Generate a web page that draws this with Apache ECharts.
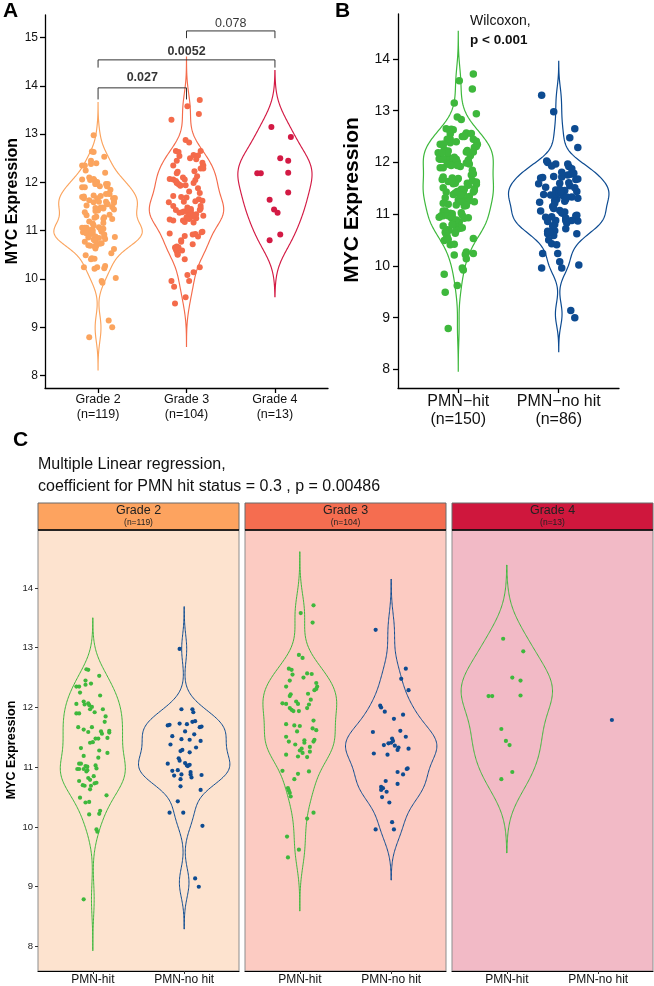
<!DOCTYPE html>
<html>
<head>
<meta charset="utf-8">
<script src="https://cdn.jsdelivr.net/npm/echarts@6/dist/echarts.min.js"></script>
<style>
html,body{margin:0;padding:0;background:#fff;}
#main{width:654px;height:986px;}
</style>
</head>
<body>
<div id="main"></div>
<script>
// points: [jitter offset, MYC expression]
const g2Hit = [[-0.07,12.64],[-0.05,12.63],[0.07,12.53],[-0.08,12.45],[-0.08,12.38],[-0.02,12.40],[-0.18,12.35],[-0.15,12.35],[-0.14,12.25],[0.08,12.20],
[-0.10,12.10],[-0.09,12.05],[-0.05,12.07],[-0.04,12.04],[-0.01,12.01],[-0.03,11.97],[0.02,11.92],[-0.18,12.06],[-0.18,11.90],[-0.15,11.90],
[0.11,11.97],[0.14,11.85],[0.13,11.76],[-0.16,11.67],[-0.10,11.63],[-0.05,11.59],[-0.01,11.67],[0.18,11.61],[0.18,11.58],[0.09,11.60],
[0.10,11.56],[0.06,11.48],[0.03,11.48],[0.16,11.49],[-0.03,11.41],[0.00,11.42],[-0.13,11.32],[0.07,11.28],[0.16,11.24],[-0.10,11.19],
[0.06,11.16],[-0.15,11.06],[-0.13,11.06],[-0.17,10.97],[-0.15,10.97],[-0.08,11.02],[-0.06,11.01],[0.03,11.03],[0.04,10.98],[-0.10,10.97],
[-0.07,10.93],[-0.06,10.95],[0.01,10.85],[-0.03,10.79],[-0.05,10.82],[-0.15,10.77],[-0.11,10.70],[-0.09,10.69],[0.02,10.73],[0.04,10.74],
[-0.02,10.69],[-0.03,10.63],[0.15,10.53],[-0.14,10.49],[-0.08,10.41],[-0.04,10.42],[0.08,10.27],[0.07,10.22],[-0.04,10.21],[0.04,9.96],
[0.05,9.92],[-0.10,8.79]];
const g2NoHit = [[-0.05,12.98],[-0.03,11.97],[0.09,11.97],[0.10,11.92],[-0.16,11.71],[-0.18,11.70],[-0.05,11.73],[0.03,11.72],[0.09,11.76],[0.12,11.77],
[0.17,11.67],[0.19,11.68],[-0.13,11.52],[0.01,11.60],[0.11,11.55],[-0.03,11.47],[0.06,11.46],[0.18,11.44],[-0.15,11.38],[0.13,11.33],
[-0.02,11.29],[-0.04,11.27],[0.06,11.25],[-0.06,11.15],[-0.18,11.06],[-0.05,11.11],[-0.13,10.94],[-0.07,10.95],[-0.11,10.86],[-0.03,10.88],
[0.01,11.07],[0.03,11.03],[0.04,11.02],[0.06,11.04],[0.07,10.92],[0.07,10.88],[0.08,10.83],[0.19,10.87],[-0.04,10.80],[-0.04,10.68],
[0.18,10.62],[-0.07,10.43],[-0.16,10.24],[-0.01,10.24],[0.20,10.02],[0.12,9.14],[0.16,9.00]];
const g3Hit = [[0.15,13.71],[0.01,13.58],[0.14,13.42],[-0.01,12.88],[0.03,12.83],[-0.12,12.65],[-0.09,12.63],[0.08,12.57],[0.13,12.56],[-0.08,12.55],
[-0.11,12.45],[0.04,12.50],[0.18,12.41],[0.19,12.35],[0.16,12.29],[0.18,12.31],[-0.15,12.35],[0.09,12.23],[-0.10,12.22],[-0.11,12.19],
[-0.19,12.07],[-0.15,12.06],[-0.04,12.10],[-0.02,12.06],[0.12,12.13],[0.08,11.99],[-0.11,11.99],[-0.09,11.96],[-0.07,11.94],[-0.01,11.94],
[-0.15,11.72],[0.00,11.69],[0.15,11.78],[0.14,11.65],[0.18,11.62],[-0.03,11.60],[-0.15,11.51],[-0.12,11.43],[-0.05,11.38],[0.05,11.41],
[0.11,11.34],[0.15,11.43],[0.16,11.46],[-0.15,11.21],[0.00,11.28],[0.02,11.31],[0.03,11.24],[0.11,11.26],[0.08,11.17],[-0.02,11.18],
[-0.19,10.94],[-0.02,10.89],[0.10,10.93],[-0.06,10.80],[-0.13,10.65],[-0.12,10.61],[-0.11,10.57],[-0.10,10.51],[0.15,10.24],[0.08,10.14],
[-0.14,9.84],[-0.01,9.62],[-0.13,9.49],[0.05,11.45],[-0.06,11.70],[0.10,12.05]];
const g3NoHit = [[-0.17,13.30],[0.16,12.65],[0.11,12.48],[0.19,12.29],[-0.12,12.03],[-0.11,12.00],[-0.07,11.93],[0.13,11.88],[0.03,11.81],[-0.20,11.59],
[0.10,11.61],[0.01,11.48],[-0.08,11.37],[-0.03,11.40],[0.00,11.41],[0.04,11.36],[0.07,11.29],[0.16,11.51],[0.19,11.31],[-0.19,11.23],
[-0.04,11.21],[0.07,10.92],[0.13,10.88],[0.17,10.97],[0.18,10.98],[-0.06,10.77],[0.07,10.72],[-0.11,10.67],[-0.11,10.62],[-0.05,10.59],
[-0.10,10.50],[-0.02,10.41],[0.01,10.08],[-0.17,9.96],[0.03,9.96],[0.08,11.33],[0.02,11.44],[-0.09,10.65]];
const g4Hit = [[-0.04,13.15],[0.18,12.94],[0.06,12.50],[0.15,12.45],[-0.20,12.19],[-0.16,12.19],[0.15,12.20],[-0.06,11.64],[-0.01,11.44],[0.03,11.37],
[0.06,10.92],[-0.06,10.80]];
const g4NoHit = [[0.15,11.79]];

const gradeNames = ['Grade 2', 'Grade 3', 'Grade 4'];
const gradeN = ['(n=119)', '(n=104)', '(n=13)'];
const hitNames = ['PMN\u2212hit', 'PMN\u2212no hit'];
const hitN = ['(n=150)', '(n=86)'];
const facetHitNames = ['PMN-hit', 'PMN-no hit'];
const ticksA = [8, 9, 10, 11, 12, 13, 14, 15];
const ticksB = [8, 9, 10, 11, 12, 13, 14];
const pairsA = [[1, 2], [1, 3], [2, 3]];
const pValuesA = ['0.027', '0.0052', '0.078'];
const pBoldA = [true, true, false];
const testB = 'Wilcoxon,';
const pValueB = 'p < 0.001';
const titleC = ['Multiple Linear regression,', 'coefficient for PMN hit status = 0.3 , p = 0.00486'];

const gradeCols = ['#FBA45E', '#F46B4B', '#D31A44'];
const stripCols = ['#FDA35F', '#F56D50', '#CF173D'];
const bgCols = ['#FDE3CF', '#FCCBC2', '#F2BAC6'];
const hitCols = ['#3EB83C', '#0D4B91'];
const FONT = 'Liberation Sans, Arial, Helvetica, sans-serif';

// ---- kernel density like R's density(bw = "nrd0"), cut = 3
function quantile(s, p) {
    const h = (s.length - 1) * p, lo = Math.floor(h);
    const hi = Math.min(lo + 1, s.length - 1);
    return s[lo] + (h - lo) * (s[hi] - s[lo]);
}
function bwNrd0(v) {
    const s = v.slice().sort((a, b) => a - b), n = s.length;
    const m = s.reduce((a, b) => a + b, 0) / n;
    const sd = Math.sqrt(s.reduce((a, b) => a + (b - m) * (b - m), 0) / (n - 1));
    const iqr = quantile(s, 0.75) - quantile(s, 0.25);
    let lo = Math.min(sd, iqr / 1.34);
    if (!(lo > 0)) lo = sd || 1;
    return 0.9 * lo * Math.pow(n, -0.2);
}
function kde(v) {
    const bw = bwNrd0(v);
    const lo = Math.min(...v) - 3 * bw, hi = Math.max(...v) + 3 * bw;
    const out = [], N = 240;
    for (let i = 0; i <= N; i++) {
        const y = lo + (hi - lo) * i / N;
        let d = 0;
        v.forEach(x => { const z = (y - x) / bw; d += Math.exp(-0.5 * z * z); });
        out.push([y, d / (v.length * bw * Math.sqrt(2 * Math.PI))]);
    }
    return out;
}

// groups: [{center, pts, color}]
function violinSeries(groups, gi, lw) {
    const withViolin = groups.filter(g => g.pts.length > 1);
    const profiles = withViolin.map(g => kde(g.pts.map(p => p[1])));
    let maxD = 0;
    profiles.forEach(p => p.forEach(q => { maxD = Math.max(maxD, q[1]); }));
    return {
        type: 'custom', xAxisIndex: gi, yAxisIndex: gi, silent: true, z: 2,
        data: withViolin.map(g => [g.center, g.pts[0][1]]),
        renderItem(params, api) {
            const p = profiles[params.dataIndex];
            const c = withViolin[params.dataIndex].center;
            const right = p.map(q => api.coord([c + q[1] / maxD * 0.5, q[0]]));
            const left = p.slice().reverse().map(q => api.coord([c - q[1] / maxD * 0.5, q[0]]));
            return {
                type: 'polygon',
                shape: {points: right.concat(left)},
                style: {fill: 'none', stroke: withViolin[params.dataIndex].color, lineWidth: lw}
            };
        }
    };
}
function pointSeries(groups, gi, size) {
    return groups.map(g => ({
        type: 'scatter', xAxisIndex: gi, yAxisIndex: gi, silent: true, z: 3,
        symbolSize: size,
        itemStyle: {color: g.color, opacity: 1},
        data: g.pts.map(p => [g.center + p[0], p[1]])
    }));
}

const groupsA = [
    {center: 1, pts: g2Hit.concat(g2NoHit), color: gradeCols[0]},
    {center: 2, pts: g3Hit.concat(g3NoHit), color: gradeCols[1]},
    {center: 3, pts: g4Hit.concat(g4NoHit), color: gradeCols[2]}
];
const groupsB = [
    {center: 1, pts: g2Hit.concat(g3Hit, g4Hit), color: hitCols[0]},
    {center: 2, pts: g2NoHit.concat(g3NoHit, g4NoHit), color: hitCols[1]}
];
const groupsC = [
    [{center: 1, pts: g2Hit, color: hitCols[0]}, {center: 2, pts: g2NoHit, color: hitCols[1]}],
    [{center: 1, pts: g3Hit, color: hitCols[0]}, {center: 2, pts: g3NoHit, color: hitCols[1]}],
    [{center: 1, pts: g4Hit, color: hitCols[0]}, {center: 2, pts: g4NoHit, color: hitCols[1]}]
];

const blackLine = {color: '#000', width: 1.3};
const gridC = [38, 245, 452];

const grids = [
    {left: 45, top: 15, width: 283, height: 373},
    {left: 398, top: 14, width: 221, height: 374}
];
gridC.forEach((l, i) => grids.push({
    left: l, top: 530, width: 201, height: 441,
    show: true, backgroundColor: bgCols[i], borderColor: '#8d8d8d', borderWidth: 1
}));

const xAxes = [
    {
        gridIndex: 0, type: 'value', min: 0.4, max: 3.6,
        axisLine: {onZero: false, lineStyle: blackLine},
        axisTick: {customValues: [1, 2, 3], length: 5, lineStyle: blackLine},
        axisLabel: {customValues: [1, 2, 3], formatter: v => gradeNames[Math.round(v) - 1] + '\n' + gradeN[Math.round(v) - 1],
            fontSize: 12.5, lineHeight: 15, color: '#111', fontFamily: FONT, margin: 4},
        splitLine: {show: false}
    },
    {
        gridIndex: 1, type: 'value', min: 0.4, max: 2.6,
        axisLine: {onZero: false, lineStyle: blackLine},
        axisTick: {customValues: [1, 2], length: 5, lineStyle: blackLine},
        axisLabel: {customValues: [1, 2], formatter: v => hitNames[Math.round(v) - 1] + '\n' + hitN[Math.round(v) - 1],
            fontSize: 16, lineHeight: 17.5, color: '#111', fontFamily: FONT, margin: 5},
        splitLine: {show: false}
    }
];
const yAxes = [
    {
        gridIndex: 0, type: 'value', min: 7.74, max: 15.47,
        axisLine: {show: true, onZero: false, lineStyle: blackLine},
        axisTick: {show: true, customValues: ticksA, length: 5, lineStyle: blackLine},
        axisLabel: {customValues: ticksA, fontSize: 12, color: '#111', fontFamily: FONT, margin: 7},
        splitLine: {show: false}
    },
    {
        gridIndex: 1, type: 'value', min: 7.64, max: 14.87,
        axisLine: {show: true, onZero: false, lineStyle: blackLine},
        axisTick: {show: true, customValues: ticksB, length: 5, lineStyle: blackLine},
        axisLabel: {customValues: ticksB, fontSize: 14, color: '#111', fontFamily: FONT, margin: 8},
        splitLine: {show: false}
    }
];
gridC.forEach((l, i) => {
    xAxes.push({
        gridIndex: 2 + i, type: 'value', min: 0.4, max: 2.6,
        axisLine: {onZero: false, lineStyle: {color: '#000', width: 1.2}},
        axisTick: {customValues: [1, 2], length: 3, lineStyle: {color: '#333', width: 1}},
        axisLabel: {customValues: [1, 2], formatter: v => facetHitNames[Math.round(v) - 1],
            fontSize: 12, color: '#111', fontFamily: FONT, margin: 3},
        splitLine: {show: false}
    });
    yAxes.push({
        gridIndex: 2 + i, type: 'value', min: 7.59, max: 14.97,
        axisLine: {show: false},
        axisTick: {show: i === 0, customValues: ticksB, length: 3, lineStyle: {color: '#333', width: 1}},
        axisLabel: {show: i === 0, customValues: ticksB, fontSize: 9.5, color: '#222', fontFamily: FONT, margin: 5},
        splitLine: {show: false}
    });
});

const series = [];
series.push(violinSeries(groupsA, 0, 1.15));
series.push(...pointSeries(groupsA, 0, 6));
series.push(violinSeries(groupsB, 1, 1.2));
series.push(...pointSeries(groupsB, 1, 7.5));
groupsC.forEach((gs, i) => {
    series.push(violinSeries(gs, 2 + i, 1));
    series.push(...pointSeries(gs, 2 + i, 4.2));
});

// significance brackets for panel A
const bracketY = [13.96, 14.54, 15.14];
const tipY = [0.24, 0.16, 0.15];
const labelY = [14.17, 14.71, 15.29];
pairsA.forEach((pr, i) => {
    series.push({
        type: 'line', xAxisIndex: 0, yAxisIndex: 0, silent: true, z: 4,
        symbol: 'none', lineStyle: {color: '#333', width: 1},
        data: [[pr[0], bracketY[i] - tipY[i]], [pr[0], bracketY[i]], [pr[1], bracketY[i]], [pr[1], bracketY[i] - tipY[i]]]
    });
    series.push({
        type: 'scatter', xAxisIndex: 0, yAxisIndex: 0, silent: true, z: 5,
        symbolSize: 1, itemStyle: {color: 'rgba(0,0,0,0)'},
        label: {show: true, position: 'inside', formatter: pValuesA[i], color: '#000',
            fontSize: 12.5, fontWeight: pBoldA[i] ? 'bold' : 'normal', fontFamily: FONT},
        data: [[(pr[0] + pr[1]) / 2, labelY[i]]]
    });
});

const graphic = [
    {type: 'text', left: 3, top: 1, style: {text: 'A', font: 'bold 21px ' + FONT, fill: '#000'}},
    {type: 'text', left: 335, top: 1, style: {text: 'B', font: 'bold 21px ' + FONT, fill: '#000'}},
    {type: 'text', left: 13, top: 430, style: {text: 'C', font: 'bold 21px ' + FONT, fill: '#000'}},
    {type: 'text', x: 12.5, y: 201, rotation: Math.PI / 2,
        style: {text: 'MYC Expression', font: 'bold 16px ' + FONT, fill: '#000', textAlign: 'center', textVerticalAlign: 'middle'}},
    {type: 'text', x: 352, y: 200, rotation: Math.PI / 2,
        style: {text: 'MYC Expression', font: 'bold 21px ' + FONT, fill: '#000', textAlign: 'center', textVerticalAlign: 'middle'}},
    {type: 'text', x: 12, y: 750, rotation: Math.PI / 2,
        style: {text: 'MYC Expression', font: 'bold 12.5px ' + FONT, fill: '#000', textAlign: 'center', textVerticalAlign: 'middle'}},
    {type: 'text', x: 470, y: 21, style: {text: testB, font: '14px ' + FONT, fill: '#111', textVerticalAlign: 'middle'}},
    {type: 'text', x: 470, y: 40, style: {text: pValueB, font: 'bold 13.5px ' + FONT, fill: '#111', textVerticalAlign: 'middle'}},
    {type: 'text', x: 38, y: 465, style: {text: titleC[0], font: '16px ' + FONT, fill: '#111', textVerticalAlign: 'middle'}},
    {type: 'text', x: 38, y: 487, style: {text: titleC[1], font: '16px ' + FONT, fill: '#111', textVerticalAlign: 'middle'}}
];
gridC.forEach((l, i) => {
    graphic.push({type: 'rect', shape: {x: l, y: 503, width: 201, height: 27},
        style: {fill: stripCols[i], stroke: '#6b6b6b', lineWidth: 1}});
    graphic.push({type: 'line', shape: {x1: l, y1: 530, x2: l + 201, y2: 530},
        style: {stroke: '#000', lineWidth: 1.6}});
    graphic.push({type: 'text', x: l + 100.5, y: 511, style: {text: gradeNames[i], font: '12.5px ' + FONT,
        fill: '#222', textAlign: 'center', textVerticalAlign: 'middle'}});
    graphic.push({type: 'text', x: l + 100.5, y: 522.5, style: {text: gradeN[i], font: '8.5px ' + FONT,
        fill: '#222', textAlign: 'center', textVerticalAlign: 'middle'}});
});

const chart = echarts.init(document.getElementById('main'));
chart.setOption({
    animation: false,
    backgroundColor: '#fff',
    textStyle: {fontFamily: FONT},
    grid: grids,
    xAxis: xAxes,
    yAxis: yAxes,
    series: series,
    graphic: graphic
});
</script>
</body>
</html>
